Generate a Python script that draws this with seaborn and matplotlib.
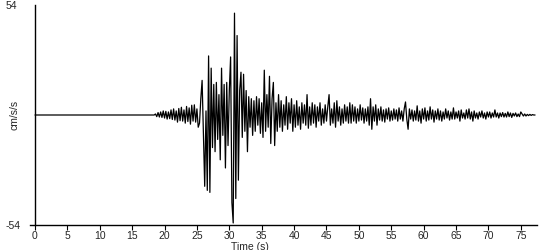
import numpy as np
import pandas as pd
import matplotlib
matplotlib.use("Agg")
import matplotlib.pyplot as plt
import seaborn as sns

# ---- data ----
record_start = 0.0          # s, quiet trace begins
onset_time = 18.4           # s, first sampled value below
sample_step = 0.2           # s
accel = [
    0.0, 0.5, -0.8, 1.2, -1.0, 1.5, -1.2, 2.0, -1.5, 1.8,
    -2.0, 1.5, -1.8, 2.5, -2.2, 3.0, -2.5, 2.0, -3.5, 3.2,
    -2.8, 3.8, -3.0, 2.5, -4.0, 4.2, -3.2, 3.5, -4.5, 4.8,
    -3.0, 5.0, -3.5, 3.0, -6.0, -4.0, 8.0, 17.0, -10.0, -35.0,
    2.0, -37.0, 29.0, -38.0, 23.0, -16.0, 15.0, -18.0, 16.0, -12.0,
    10.0, -22.0, 23.0, -10.0, 15.0, -26.0, 16.0, -15.0, 12.0, 28.5,
    -43.0, -53.0, 50.0, -41.0, 39.0, -32.0, 12.0, 21.0, -11.0, 20.0,
    -8.0, 12.0, -18.0, 9.0, -6.0, 8.0, -10.0, 7.0, -8.0, 9.0,
    -5.0, 8.0, -9.0, 6.0, -11.0, 22.0, -8.0, 10.0, -6.0, 19.0,
    -14.0, 8.0, 16.0, -15.0, 6.0, -8.0, 10.0, -6.0, 7.0, -8.0,
    5.0, -5.0, 9.0, -7.0, 6.0, -4.0, 8.0, -8.0, 5.0, -6.0,
    7.0, -5.0, 4.0, -7.0, 6.0, -4.0, 5.0, -5.0, 10.0, -6.5,
    4.0, -5.0, 6.0, -4.0, 5.0, -6.0, 4.0, -3.0, 6.0, -5.0,
    3.0, -4.0, 5.0, -3.0, 4.0, 10.0, -5.0, 3.0, -4.0, 6.0,
    -6.0, 7.0, -3.0, 4.0, -5.0, 3.0, -4.0, 5.0, -3.0, 4.0,
    -4.0, 6.0, -4.0, 5.0, -3.0, 4.0, -4.0, 3.0, -3.0, 5.0,
    -2.5, 3.5, -4.0, 3.0, -3.0, 4.0, -5.0, 8.0, -7.0, 4.0,
    -3.0, 5.0, -5.0, 3.0, -2.5, 4.0, -3.0, 2.5, -3.5, 3.0,
    -2.0, 3.5, -3.0, 2.0, -2.5, 3.0, -2.0, 2.5, -3.0, 3.5,
    -2.0, 2.0, -3.0, 3.0, 6.4, -2.0, -7.0, 3.0, -2.0, 2.5,
    -3.0, 2.0, -2.5, 4.5, -3.0, 2.0, -4.0, 3.0, -2.0, 3.5,
    -3.0, 2.0, -2.5, 4.0, -2.0, 2.5, -3.5, 2.0, -2.0, 3.0,
    -2.5, 2.0, -3.0, 1.5, -2.0, 3.0, -1.5, 2.0, -2.5, 1.5,
    -2.0, 3.5, -2.0, 1.5, -1.5, 2.0, -3.0, 2.5, -1.5, 1.0,
    -2.0, 2.5, -1.5, 3.0, -2.0, 1.5, -3.0, 2.0, -1.5, 1.0,
    -2.0, 1.5, -1.0, 2.0, -1.5, 1.0, -2.0, 1.5, -1.0, 1.5,
    -1.5, 1.0, -1.0, 2.5, -1.0, 1.0, -1.5, 1.0, -0.8, 1.2,
    -1.0, 0.8, -1.0, 1.5, -0.8, 1.0, -1.2, 0.8, -0.5, 1.0,
    -0.8, 0.5, -0.8, 1.5, 0.5, -0.5, 0.5, -0.5, 0.3, -0.3,
    0.3, -0.2, 0.2, 0.0, 0.0,
]
x_ticks = list(range(0, 80, 5))
y_ticks = [-54, 54]
y_label = "cm/s/s"
x_label = "Time (s)"

times = np.concatenate([[record_start], onset_time + sample_step * np.arange(len(accel))])
values = np.concatenate([[0.0], accel])
df = pd.DataFrame({"t": times, "a": values})

sns.set_style("white")
plt.rcParams["font.family"] = ["Liberation Sans", "DejaVu Sans"]
plt.rcParams["font.size"] = 7.5

fig = plt.figure(figsize=(5.5, 2.5), dpi=100)
ax = fig.add_axes([30 / 550, 25 / 250, 507 / 550, 220 / 250])

sns.lineplot(data=df, x="t", y="a", ax=ax, color="black", linewidth=0.9,
             estimator=None, sort=False)

ax.set_xlim(-0.77, 77.5)
ax.set_ylim(-54, 54)
ax.set_xticks(x_ticks)
ax.set_xticklabels([str(v) for v in x_ticks])
ax.set_yticks(y_ticks)
ax.set_yticklabels([str(v) for v in y_ticks])

for s in ["top", "right"]:
    ax.spines[s].set_visible(False)
ax.spines["left"].set_position(("data", 0))
for s in ["left", "bottom"]:
    ax.spines[s].set_color("black")
    ax.spines[s].set_linewidth(1.0)

ax.tick_params(axis="x", direction="out", length=3.5, width=0.8, color="black",
               pad=0.8, labelsize=7.5, bottom=True)
ax.tick_params(axis="y", length=0, pad=21.5, labelsize=7.5, left=True)
plt.setp(ax.get_yticklabels(), ha="left")

ax.set_xlabel(x_label, fontsize=7.5)
ax.xaxis.set_label_coords(220 / 507, -16.5 / 220)
ax.set_ylabel(y_label, fontsize=7.5)
ax.yaxis.set_label_coords(-11 / 507, 0.5)

fig.savefig("out.png", dpi=100)
